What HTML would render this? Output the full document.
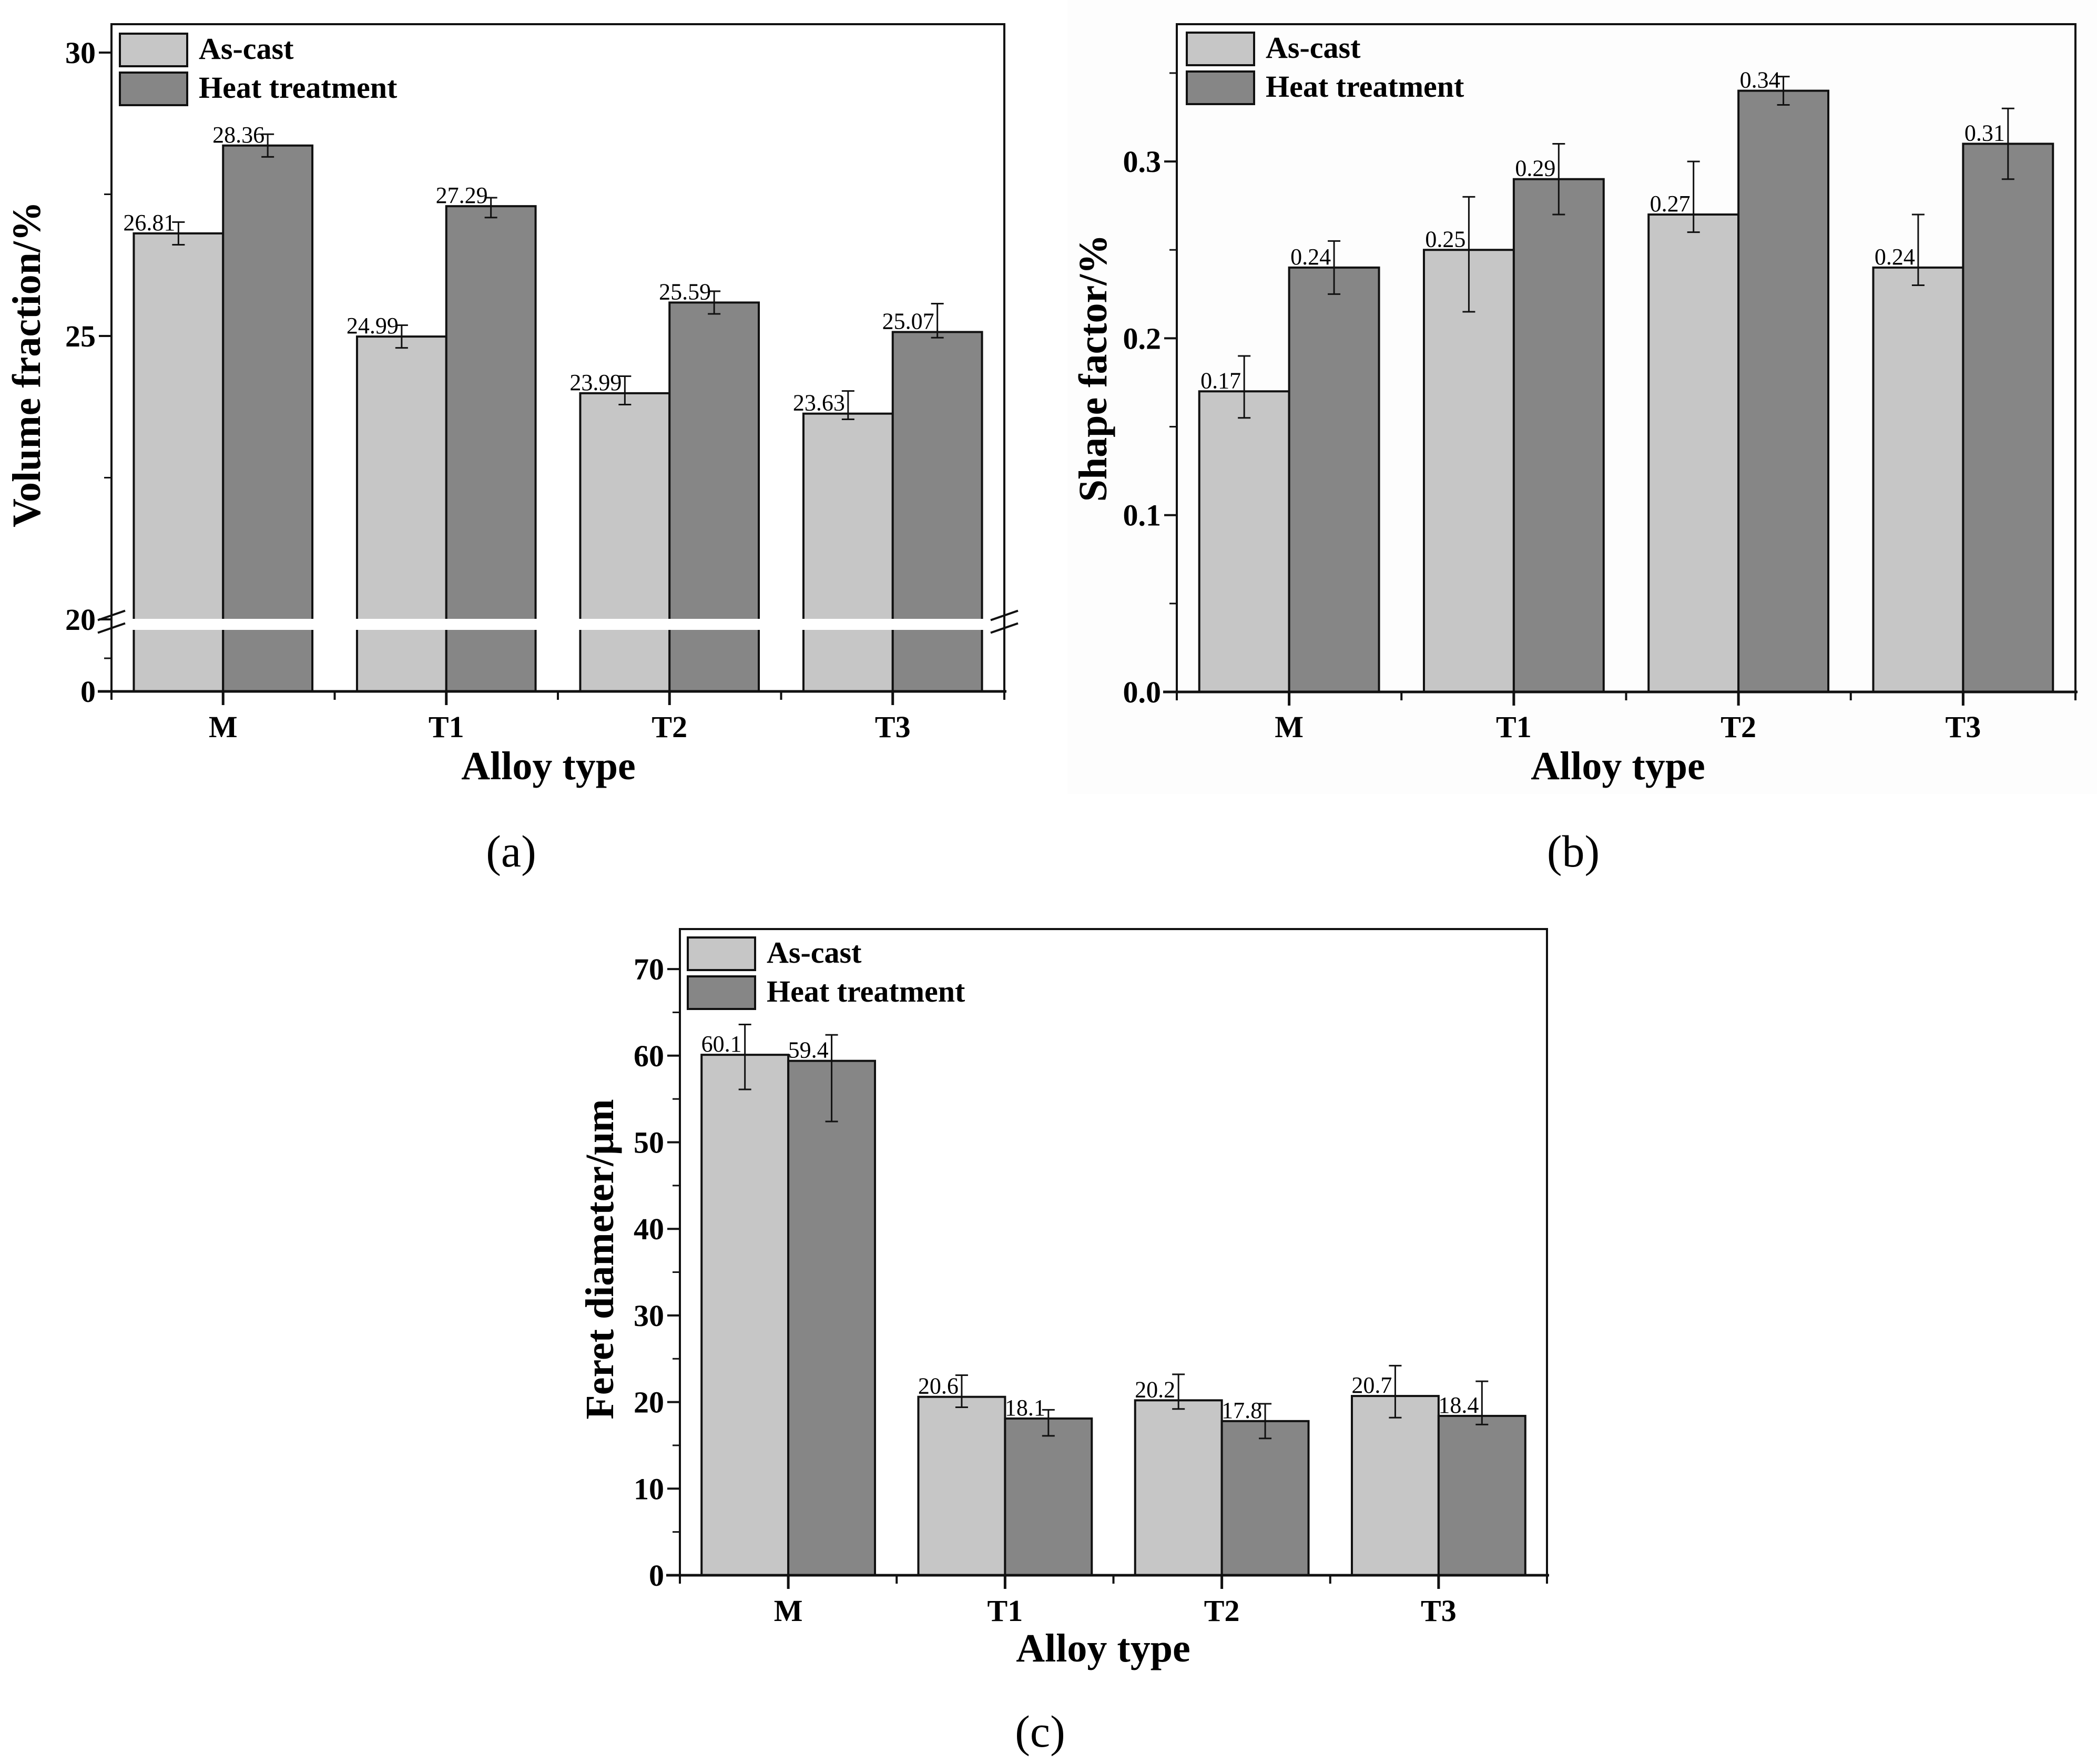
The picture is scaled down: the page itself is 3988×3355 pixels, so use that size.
<!DOCTYPE html>
<html><head><meta charset="utf-8">
<style>
html,body{margin:0;padding:0;background:#fff}
svg{display:block}
text{font-family:"Liberation Serif",serif}
</style></head>
<body>
<svg id="fig" xmlns="http://www.w3.org/2000/svg" width="3988" height="3355" viewBox="0 0 3988 3355">
<rect x="2030" y="0" width="1958" height="1510" fill="#fdfdfd"/>
</svg>
<script>
const categories = ["M","T1","T2","T3"];
// Panel (a)
const volAsCast = [26.81, 24.99, 23.99, 23.63];
const volHeat = [28.36, 27.29, 25.59, 25.07];
const volAsCastErrUp = [0.2, 0.2, 0.3, 0.4];
const volAsCastErrDn = [0.2, 0.2, 0.2, 0.1];
const volHeatErrUp = [0.2, 0.15, 0.2, 0.5];
const volHeatErrDn = [0.2, 0.2, 0.2, 0.1];
const volTicks = ["20","25","30"];
// Panel (b)
const shapeAsCast = [0.17, 0.25, 0.27, 0.24];
const shapeHeat = [0.24, 0.29, 0.34, 0.31];
const shapeAsCastErrUp = [0.02, 0.03, 0.03, 0.03];
const shapeAsCastErrDn = [0.015, 0.035, 0.01, 0.01];
const shapeHeatErrUp = [0.015, 0.02, 0.008, 0.02];
const shapeHeatErrDn = [0.015, 0.02, 0.008, 0.02];
const shapeTicks = ["0.0","0.1","0.2","0.3"];
const shapeLabels = ["0.17","0.25","0.27","0.24"];
const shapeHeatLabels = ["0.24","0.29","0.34","0.31"];
// Panel (c)
const feretAsCast = [60.1, 20.6, 20.2, 20.7];
const feretHeat = [59.4, 18.1, 17.8, 18.4];
const feretAsCastErrUp = [3.5, 2.5, 3.0, 3.5];
const feretAsCastErrDn = [4.0, 1.2, 1.0, 2.5];
const feretHeatErrUp = [3.0, 1.0, 2.0, 4.0];
const feretHeatErrDn = [7.0, 2.0, 2.0, 1.0];
const feretTicks = ["0","10","20","30","40","50","60","70"];

const svg = document.getElementById('fig');
const NS = "http://www.w3.org/2000/svg";
function mk(tag, attrs, parent){
  const e = document.createElementNS(NS, tag);
  for (const k in attrs) e.setAttribute(k, attrs[k]);
  (parent||svg).appendChild(e);
  return e;
}
function txt(s, x, y, size, weight, anchor, parent){
  const t = mk('text', {x:x, y:y, 'font-size':size, 'font-weight':weight, 'text-anchor':anchor}, parent);
  t.textContent = s;
  return t;
}

function panel(cfg){
  const g = mk('g', {});
  
  
  const L=cfg.left, R=cfg.right, T=cfg.top, B=cfg.bottom;
  const band=(R-L)/4, bw=band*0.4;
  const y=cfg.y;
  for (let i=0;i<4;i++){
    const cx=L+band*(i+0.5);
    const series=[[cfg.a,cfg.aUp,cfg.aDn,'#c6c6c6',cx-bw,cfg.aLab],[cfg.h,cfg.hUp,cfg.hDn,'#868686',cx,cfg.hLab]];
    series.forEach((s,k)=>{
      const v=s[0][i], x0=s[4];
      const r = mk('rect',{x:x0,y:y(v),width:bw,height:B-y(v),fill:s[3],stroke:'#111','stroke-width':4},g);
      
      
      const ex=x0+bw/2, yt=y(v+s[1][i]), yb=y(v-s[2][i]);
      const e = mk('path',{d:`M${ex},${yt}V${yb}M${ex-12},${yt}H${ex+12}M${ex-12},${yb}H${ex+12}`,stroke:'#111','stroke-width':3,fill:'none'},g);
      
      
      const lab = txt(s[5][i], ex-6, y(v)-6, 44, 'normal', 'end', g);
      
      
    });
  }
  if (cfg.breakY){
    const b = mk('rect',{x:L+2,y:cfg.breakY[0],width:R-L-4,height:cfg.breakY[1]-cfg.breakY[0],fill:'#fff'},g);
    
    
  }
  const f = mk('path',{d:`M${L},${B}V${T}H${R}V${B}`,stroke:'#111','stroke-width':4,fill:'none'},g);
  
  
  const xa = mk('line',{x1:L-26,y1:B,x2:R+4,y2:B,stroke:'#111','stroke-width':5},g);
  
  
  if (cfg.breakY){
    const m=(cfg.breakY[0]+cfg.breakY[1])/2;
    [L,R].forEach(xx=>{
      const sl = mk('path',{d:`M${xx-26},${m-8}L${xx+26},${m-26}M${xx-26},${m+16}L${xx+26},${m-2}`,stroke:'#111','stroke-width':4},g);
      
      
    });
  }
  for (let i=0;i<=4;i++){
    const xx=L+band*i;
    mk('line',{x1:xx,y1:B,x2:xx,y2:B+16,stroke:'#111','stroke-width':4},g);
  }
  for (let i=0;i<4;i++){
    const cx=L+band*(i+0.5);
    mk('line',{x1:cx,y1:B,x2:cx,y2:B+26,stroke:'#111','stroke-width':5},g);
    const t = txt(categories[i], cx, cfg.xlabY, 58, 'bold', 'middle', g);
    
    
  }
  cfg.ticks.forEach(s=>{
    const v=parseFloat(s), yy=y(v);
    mk('line',{x1:L-24,y1:yy,x2:L,y2:yy,stroke:'#111','stroke-width':4},g);
    const t = txt(s, L-30, yy+20, 58, 'bold', 'end', g);
    
    
  });
  cfg.minor.forEach(v=>{
    const yy=y(v);
    mk('line',{x1:L-14,y1:yy,x2:L,y2:yy,stroke:'#111','stroke-width':3},g);
  });
  const lg = mk('g',{},g);
  
  
  [['As-cast','#c6c6c6',0],['Heat treatment','#868686',1]].forEach(s=>{
    const yy=cfg.legY+s[2]*74;
    mk('rect',{x:cfg.legX,y:yy,width:128,height:62,fill:s[1],stroke:'#111','stroke-width':4},lg);
    const t = txt(s[0], cfg.legX+150, yy+48, 58, 'bold', 'start', lg);
    
    
  });
  const xt = txt('Alloy type', cfg.xtitleX, cfg.xtitleY, 76, 'bold', 'middle', g);
  
  
  const yt = txt(cfg.ytitle, 0, 0, 76, 'bold', 'middle', g);
  yt.setAttribute('transform',`translate(${cfg.ytitleX},${cfg.ytitleY}) rotate(-90)`);
  
  
  const cap = txt(cfg.caption, cfg.capX, cfg.capY, 86, 'normal', 'middle', g);
  
  
}

panel({id:'panel-a', left:212, right:1910, top:46, bottom:1315,
  y:v=> v>=20 ? 1178-(v-20)*107.8 : 1315-v*7,
  a:volAsCast,h:volHeat,aUp:volAsCastErrUp,aDn:volAsCastErrDn,hUp:volHeatErrUp,hDn:volHeatErrDn,
  aLab:volAsCast.map(v=>v.toFixed(2)),hLab:volHeat.map(v=>v.toFixed(2)),
  breakY:[1177,1198], ticks:["0"].concat(volTicks), minor:[22.5,27.5,9],
  legX:228,legY:64, xlabY:1402, xtitleX:1043, xtitleY:1482, ytitle:'Volume fraction/%', ytitleX:76, ytitleY:693,
  caption:'(a)', capX:972, capY:1648});
panel({id:'panel-b', left:2238, right:3947, top:46, bottom:1316,
  y:v=> 1316-v*3363,
  a:shapeAsCast,h:shapeHeat,aUp:shapeAsCastErrUp,aDn:shapeAsCastErrDn,hUp:shapeHeatErrUp,hDn:shapeHeatErrDn,
  aLab:shapeLabels,hLab:shapeHeatLabels,
  ticks:shapeTicks, minor:[0.05,0.15,0.25,0.35],
  legX:2257,legY:62, xlabY:1402, xtitleX:3077, xtitleY:1482, ytitle:'Shape factor/%', ytitleX:2104, ytitleY:700,
  caption:'(b)', capX:2992, capY:1648});
panel({id:'panel-c', left:1293, right:2942, top:1767, bottom:2996,
  y:v=> 2996-v*16.47,
  a:feretAsCast,h:feretHeat,aUp:feretAsCastErrUp,aDn:feretAsCastErrDn,hUp:feretHeatErrUp,hDn:feretHeatErrDn,
  aLab:feretAsCast.map(v=>v.toFixed(1)),hLab:feretHeat.map(v=>v.toFixed(1)),
  ticks:feretTicks, minor:[5,15,25,35,45,55,65],
  legX:1308,legY:1783, xlabY:3083, xtitleX:2098, xtitleY:3160, ytitle:'Feret diameter/\u03bcm', ytitleX:1166, ytitleY:2395,
  caption:'(c)', capX:1978, capY:3322});
</script>
</body></html>
